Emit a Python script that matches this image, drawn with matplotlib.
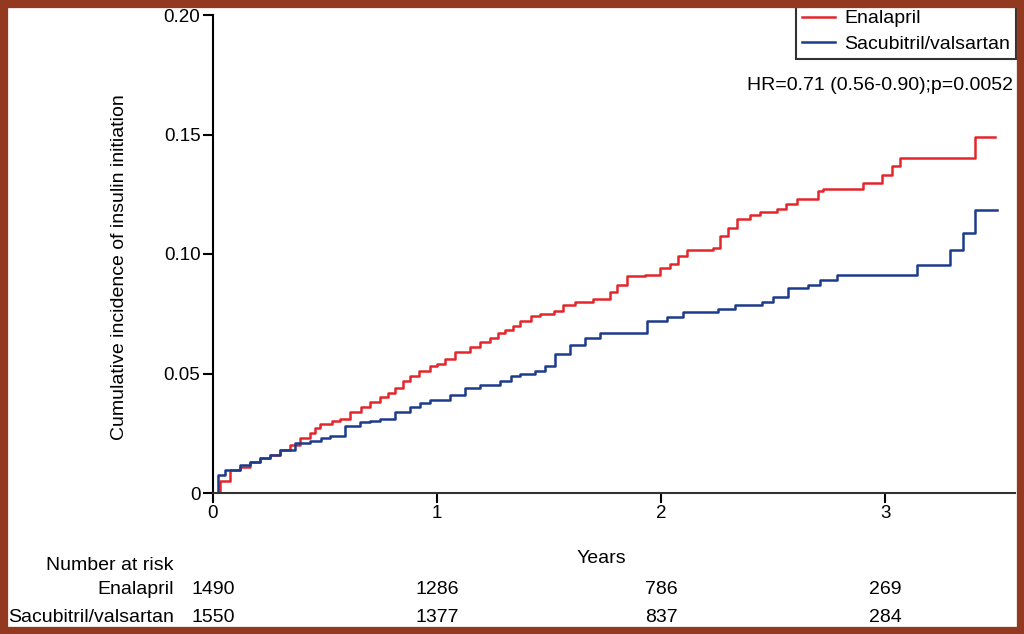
import matplotlib.pyplot as plt
from matplotlib.patches import Rectangle
from matplotlib.transforms import blended_transform_factory
import numpy as np

plt.rcParams['font.family'] = ['Liberation Sans', 'DejaVu Sans']

# --- Step curve data (years, cumulative incidence) ---
enal_t = [0.0, 0.031, 0.076, 0.12, 0.165, 0.21, 0.254, 0.30, 0.344, 0.388, 0.433, 0.455,
          0.478, 0.53, 0.567, 0.612, 0.66, 0.701, 0.746, 0.78, 0.813, 0.85, 0.879, 0.92,
          0.969, 1.0, 1.036, 1.080, 1.147, 1.19, 1.237, 1.27, 1.304, 1.34, 1.371, 1.42,
          1.460, 1.52, 1.563, 1.616, 1.696, 1.772, 1.804, 1.848, 1.929, 1.996, 2.04, 2.076,
          2.116, 2.232, 2.263, 2.30, 2.339, 2.397, 2.442, 2.518, 2.56, 2.607, 2.701, 2.723,
          2.902, 2.987, 3.031, 3.067, 3.402]
enal_y = [0.0, 0.005, 0.0096, 0.011, 0.013, 0.0145, 0.016, 0.018, 0.020, 0.023, 0.025, 0.027,
          0.029, 0.030, 0.031, 0.034, 0.036, 0.038, 0.040, 0.042, 0.044, 0.047, 0.049, 0.051,
          0.053, 0.054, 0.056, 0.059, 0.061, 0.063, 0.065, 0.067, 0.068, 0.070, 0.072, 0.074,
          0.075, 0.076, 0.0785, 0.080, 0.081, 0.084, 0.087, 0.0906, 0.0914, 0.094, 0.096,
          0.099, 0.1015, 0.1027, 0.1077, 0.111, 0.1148, 0.1165, 0.1177, 0.119, 0.121, 0.123,
          0.1265, 0.127, 0.1298, 0.133, 0.137, 0.140, 0.149]
enal_end = 3.491

sv_t = [0.0, 0.022, 0.054, 0.121, 0.165, 0.210, 0.255, 0.299, 0.366, 0.433, 0.48, 0.522,
        0.589, 0.656, 0.70, 0.746, 0.813, 0.879, 0.925, 0.969, 1.058, 1.125, 1.192, 1.281,
        1.33, 1.371, 1.438, 1.482, 1.527, 1.594, 1.661, 1.728, 1.938, 2.027, 2.098, 2.254,
        2.330, 2.451, 2.500, 2.567, 2.656, 2.710, 2.786, 3.143, 3.290, 3.348, 3.402]
sv_y = [0.0, 0.0075, 0.0096, 0.0117, 0.013, 0.0146, 0.016, 0.018, 0.021, 0.0217, 0.023, 0.024,
        0.028, 0.0296, 0.030, 0.031, 0.034, 0.036, 0.0375, 0.039, 0.041, 0.044, 0.045, 0.047,
        0.049, 0.050, 0.051, 0.053, 0.058, 0.062, 0.065, 0.067, 0.072, 0.0735, 0.0756, 0.077,
        0.0785, 0.080, 0.082, 0.0856, 0.087, 0.089, 0.0914, 0.0956, 0.1015, 0.1086, 0.1186]
sv_end = 3.500

risk_times = [0, 1, 2, 3]
risk_enal = [1490, 1286, 786, 269]
risk_sv = [1550, 1377, 837, 284]

red = '#e3262b'
blue = '#1d3b8c'

fig = plt.figure(figsize=(10.24, 6.34), dpi=100)
ax = fig.add_axes([213 / 1024, 1 - 493 / 634, 802 / 1024, 478 / 634])

ax.step(enal_t + [enal_end], enal_y + [enal_y[-1]], where='post', color=red, lw=1.8,
        label='Enalapril')
ax.step(sv_t + [sv_end], sv_y + [sv_y[-1]], where='post', color=blue, lw=1.8,
        label='Sacubitril/valsartan')

ax.set_xlim(0, 3.58)
ax.set_ylim(0, 0.20)
ax.set_xticks([0, 1, 2, 3])
ax.set_yticks([0, 0.05, 0.10, 0.15, 0.20])
ax.set_yticklabels(['0', '0.05', '0.10', '0.15', '0.20'])
ax.tick_params(labelsize=13.5, width=1.5, length=7, direction='out', pad=2)
for s in ['top', 'right']:
    ax.spines[s].set_visible(False)
ax.spines['left'].set_linewidth(1.5)
ax.spines['bottom'].set_linewidth(1.5)
ax.spines['bottom'].set_color('#333333')

ax.set_ylabel('Cumulative incidence of insulin initiation', fontsize=14)
ax.yaxis.set_label_coords(-0.106, 0.473)
ax.set_xlabel('Years', fontsize=14)
ax.xaxis.set_label_coords(0.484, -0.119)

leg = ax.legend(loc='upper right', bbox_to_anchor=(1016 / 1024, 1 - 4 / 634),
                bbox_transform=fig.transFigure, fontsize=14, frameon=True, fancybox=False,
                handlelength=1.7, handletextpad=0.5, labelspacing=0.4, borderpad=0.3,
                borderaxespad=0)
leg.get_frame().set_edgecolor('black')
leg.get_frame().set_linewidth(1.5)

fig.text(1013 / 1024, 1 - 85 / 634, 'HR=0.71 (0.56-0.90);p=0.0052', fontsize=14,
         ha='right', va='center')

# Number at risk table
tr = blended_transform_factory(ax.transData, fig.transFigure)
fig.text(174 / 1024, 1 - 565 / 634, 'Number at risk', fontsize=14, ha='right', va='center')
fig.text(174 / 1024, 1 - 590 / 634, 'Enalapril', fontsize=14, ha='right', va='center')
fig.text(174 / 1024, 1 - 617 / 634, 'Sacubitril/valsartan', fontsize=14, ha='right', va='center')
for t, a, b in zip(risk_times, risk_enal, risk_sv):
    ax.text(t, 1 - 590 / 634, str(a), fontsize=14, ha='center', va='center', transform=tr,
            clip_on=False)
    ax.text(t, 1 - 617 / 634, str(b), fontsize=14, ha='center', va='center', transform=tr,
            clip_on=False)

# Brown frame around the figure
fig.add_artist(Rectangle((0, 0), 1, 1, transform=fig.transFigure, fill=False,
                         edgecolor='#93391f', lw=11, zorder=10))

fig.savefig('out.png', dpi=100)
